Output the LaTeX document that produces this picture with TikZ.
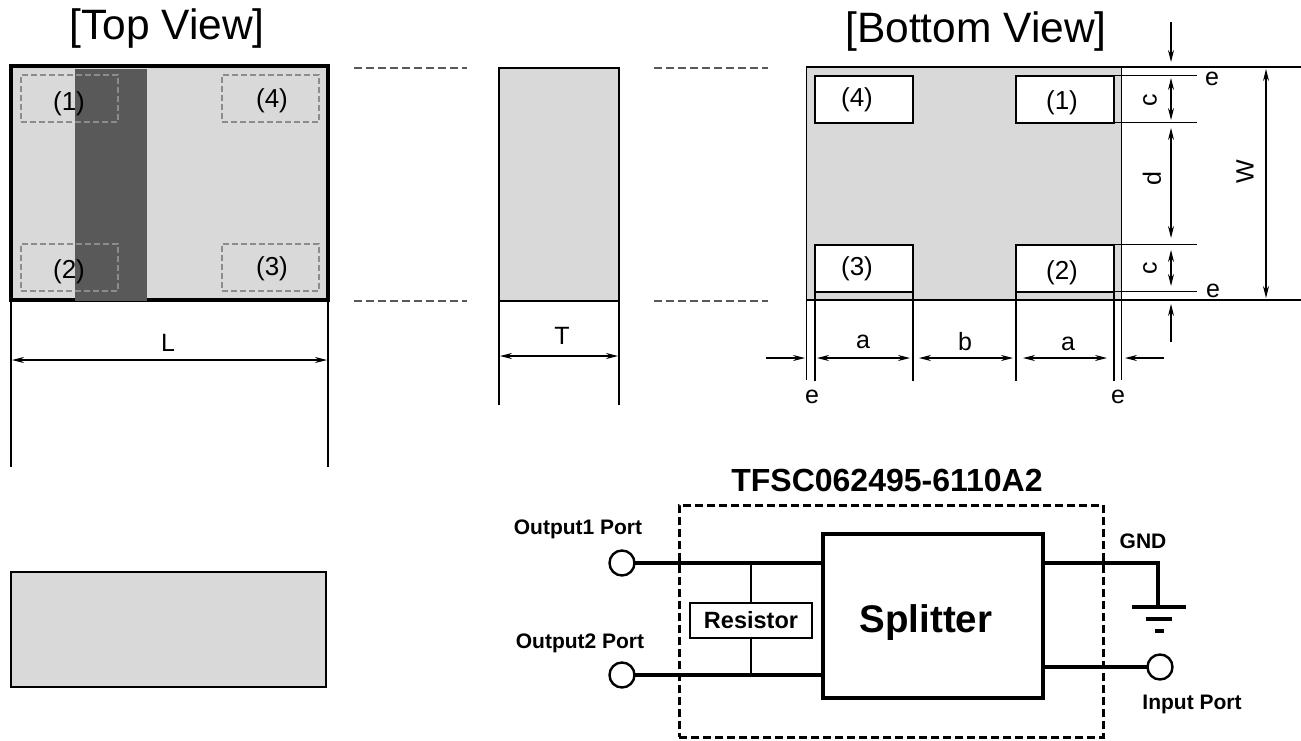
\documentclass[tikz,border=0pt]{standalone}
\usepackage{fontspec}
\setmainfont{Liberation Sans}
\usepackage{xcolor}
\definecolor{BodyGrey}{HTML}{D9D9D9}
\definecolor{BarGrey}{HTML}{595959}
\definecolor{PadGrey}{HTML}{8C8C8C}
\usetikzlibrary{arrows.meta, positioning, calc}

\begin{document}
\begin{tikzpicture}[
  x=1pt, y=-1pt, outer sep=0pt,
  body/.style={rectangle, draw=black, fill=BodyGrey, line width=1.8pt, inner sep=0pt},
  toppad/.style={rectangle, draw=PadGrey, dashed, dash pattern=on 6pt off 3pt, line width=2pt, minimum width=97pt, minimum height=47pt, inner sep=0pt},
  botpad/.style={rectangle, draw=black, fill=white, line width=2pt, minimum width=98pt, minimum height=47pt, inner sep=0pt},
  padtext/.style={font=\fontsize{26}{26}\selectfont, inner sep=0pt},
  viewtitle/.style={font=\fontsize{42.5}{42.5}\selectfont, inner sep=0pt},
  dimtext/.style={font=\fontsize{25}{25}\selectfont, inner sep=0pt},
  portlabel/.style={font=\fontsize{21}{21}\selectfont\bfseries, inner sep=0pt},
  port/.style={circle, draw=black, fill=white, line width=2.4pt, minimum size=25pt, inner sep=0pt},
  ext/.style={line width=1.7pt},
  guide/.style={draw=black!65, dashed, dash pattern=on 8pt off 4pt, line width=1.5pt},
  dim/.style={{Stealth[length=12pt,width=6pt]}-{Stealth[length=12pt,width=6pt]}, line width=1.2pt},
  lead/.style={-{Stealth[length=12pt,width=6pt]}, line width=1.2pt},
  wire/.style={line width=3.8pt}
]
  \useasboundingbox (0,0) rectangle (1301,740);

  % Top view
  \node[viewtitle] (toptitle) at (167,29) {[Top View]};
  \node[body, line width=3.5pt, minimum width=317pt, minimum height=234pt] (topbody) at (169.5,183) {};
  \node[fill=BarGrey, minimum width=72pt, minimum height=232pt, inner sep=0pt] (topbar) at (111,185) {};
  \foreach \name/\px/\py/\lbx/\lby/\lab in {tpa/69/98.5/69/104/(1), tpb/270.5/98.5/272/101/(4), tpc/69/267.5/69/272/(2), tpd/270.5/267.5/272/269/(3)} {
    \node[toppad] (\name) at (\px,\py) {};
    \node[padtext] (\name text) at (\lbx,\lby) {\lab};
  }
  \node[body, line width=1.6pt, minimum width=315pt, minimum height=115pt] (sidebody) at (168.5,629.5) {};

  % L dimension
  \coordinate (lleft) at (11,467);
  \coordinate (lright) at (328,467);
  \draw[ext] (topbody.south west) -- (lleft);
  \draw[ext] (topbody.south east) -- (lright);
  \draw[dim] (12,360) -- (327,360);
  \node[dimtext] (llabel) at (168,343) {L};

  % Middle view
  \node[body, minimum width=120pt, minimum height=233pt] (midbody) at (559,184.5) {};
  \coordinate (tleft) at (499,405);
  \coordinate (tright) at (619,405);
  \draw[ext] (midbody.south west) -- (tleft);
  \draw[ext] (midbody.south east) -- (tright);
  \draw[dim] (500,356) -- (618,356);
  \node[dimtext] (tlabel) at (562,336) {T};

  % Guides
  \foreach \gy in {68,301} {
    \draw[guide] (354,\gy) -- (467,\gy);
    \draw[guide] (654,\gy) -- (768,\gy);
  }

  % Bottom view
  \node[viewtitle] (bottitle) at (976,32) {[Bottom View]};
  \node[body, minimum width=315pt, minimum height=233pt] (botbody) at (964,183.5) {};
  \foreach \name/\px/\py/\lby/\lab in {bpd/864/99/100/(4), bpa/1065/99/103/(1), bpc/864/268/269/(3), bpb/1065/268/273/(2)} {
    \node[botpad] (\name) at (\px,\py) {};
    \node[padtext] (\name text) at (\px-\ifnum\px<900 7\else 3\fi,\lby) {\lab};
  }

  % Extension lines
  \draw[ext] (botbody.south west) ++(0,-5) -- ++(0,85) coordinate (ea);
  \draw[ext] (bpc.south west) -- ++(0,89);
  \draw[ext] (bpc.south east) -- ++(0,89);
  \draw[ext] (bpb.south west) -- ++(0,89);
  \draw[ext] (bpb.south east) -- ++(0,89);
  \draw[ext] (botbody.south east) -- ++(0,80) coordinate (eb);
  \draw[ext] (botbody.north east) -- ++(179,0) coordinate (wtop);
  \draw[ext] (botbody.south east) -- ++(179,0) coordinate (wbot);
  \draw[ext] (bpa.north east) -- (1197,75.5);
  \draw[ext] (bpa.south east) -- (1197,122.5);
  \draw[ext] (bpb.north east) -- (1197,244.5);
  \draw[ext] (bpb.south east) -- (1197,291.5);

  % Horizontal dimensions
  \draw[lead] (766,358) -- (805,358);
  \draw[dim] (817,358) -- (910,358);
  \draw[dim] (919,358) -- (1013,358);
  \draw[dim] (1023,358) -- (1107,358);
  \draw[lead] (1164,358) -- (1125,358);
  \node[dimtext] (alabel) at (863,342) {a};
  \node[dimtext] (blabel) at (965,342) {b};
  \node[dimtext] (aalabel) at (1068,344) {a};
  \node[dimtext] (elabel) at (812,397) {e};
  \node[dimtext] (eelabel) at (1118,397) {e};

  % Vertical dimensions
  \draw[lead] (1171,22) -- (1171,62);
  \draw[dim] (1171,78) -- (1171,120);
  \draw[dim] (1171,128) -- (1171,238);
  \draw[dim] (1171,250) -- (1171,286);
  \draw[lead] (1171,342) -- (1171,304);
  \draw[dim] (1266,69) -- (1266,298);
  \node[dimtext] (etlabel) at (1212,79) {e};
  \node[dimtext] (eblabel) at (1213,291) {e};
  \node[dimtext, rotate=90] (cclabel) at (1150,100) {c};
  \node[dimtext, rotate=90] (dlabel) at (1152,179) {d};
  \node[dimtext, rotate=90] (ccclabel) at (1150,268) {c};
  \node[dimtext, rotate=90] (wlabel) at (1245,172) {W};

  % Schematic
  \node[font=\fontsize{32}{32}\selectfont\bfseries, inner sep=0pt] (parttitle) at (887,480) {TFSC062495-6110A2};
  \node[rectangle, draw=black, dashed, dash pattern=on 8pt off 4pt, line width=3pt, minimum width=424pt, minimum height=232pt, inner sep=0pt] (package) at (891,621) {};
  \node[rectangle, draw=black, line width=3.5pt, minimum width=220pt, minimum height=164pt, inner sep=0pt] (splitter) at (933,616) {};
  \node[font=\fontsize{38.5}{38.5}\selectfont\bfseries, inner sep=0pt] (splittertext) at (926,623) {Splitter};
  \node[rectangle, draw=black, line width=1.8pt, minimum width=122pt, minimum height=35pt, inner sep=0pt, font=\fontsize{23.5}{23.5}\selectfont\bfseries] (resistor) at (751,620.5) {Resistor};
  \node[port] (outa) at (622,563) {};
  \node[port] (outb) at (622,675) {};
  \node[port] (inport) at (1160,667) {};
  \node[portlabel] (outalabel) at (578,529) {Output1 Port};
  \node[portlabel] (outblabel) at (580,643) {Output2 Port};
  \node[portlabel] (gndlabel) at (1143,541) {GND};
  \node[portlabel] (inlabel) at (1192,704) {Input Port};

  \coordinate (gndtop) at (1158,607);
  \coordinate (juncta) at (751,563);
  \coordinate (junctb) at (751,675);
  \draw[wire] (outa.east) -- (splitter.west |- outa);
  \draw[wire] (outb.east) -- (splitter.west |- outb);
  \draw[wire] (splitter.east |- juncta) -| (gndtop);
  \draw[wire] (splitter.east |- inport) -- (inport.west);
  \draw[line width=2.5pt] (juncta) -- (resistor.north);
  \draw[line width=2.5pt] (resistor.south) -- (junctb);

  % Ground
  \draw[line width=3.5pt] (1132,607) -- (1186,607);
  \draw[line width=3.5pt] (1146,619) -- (1172,619);
  \draw[line width=3.5pt] (1155,631) -- (1164,631);
\end{tikzpicture}
\end{document}
